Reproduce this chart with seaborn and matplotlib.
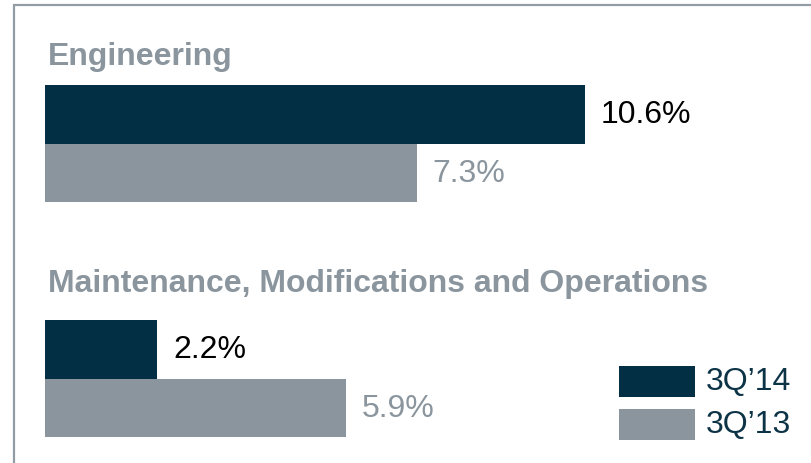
import matplotlib
matplotlib.use("Agg")
import matplotlib.pyplot as plt
import seaborn as sns
import pandas as pd
from matplotlib.patches import Rectangle

sns.set_theme(style="white")
plt.rcParams['font.family'] = ['Liberation Sans', 'DejaVu Sans']

segments = ["Engineering", "Maintenance, Modifications and Operations"]
periods = ["3Q\u201914", "3Q\u201913"]
values_3q14 = [10.6, 2.2]
values_3q13 = [7.3, 5.9]
labels_3q14 = ["10.6%", "2.2%"]
labels_3q13 = ["7.3%", "5.9%"]

DARK = "#022f44"
GRAY = "#8a959e"
TITLE_GRAY = "#8a959e"
LEG_TEXT = "#0d3347"
FS = 23

W, H = 812, 464
fig = plt.figure(figsize=(W / 100, H / 100), dpi=100)

px_per_unit = 50.85
x0 = 45.5
xmax = (W - x0) / px_per_unit

# group axes: (top_px, bottom_px, title_y_px)
groups = [(86, 203, 57), (321, 438, 284)]

for i, (top, bot, ty) in enumerate(groups):
    ax = fig.add_axes([x0 / W, 1 - bot / H, (W - x0) / W, (bot - top) / H])
    df = pd.DataFrame({
        "segment": [segments[i]] * 2,
        "period": periods,
        "value": [values_3q14[i], values_3q13[i]],
    })
    sns.barplot(data=df, x="value", y="segment", hue="period",
                palette=[DARK, GRAY], orient="h", width=0.8, dodge=True,
                legend=False, ax=ax, saturation=1, linewidth=0)
    ax.set_xlim(0, xmax)
    ax.set_ylim(0.4, -0.4)
    ax.axis("off")
    labs = [labels_3q14[i], labels_3q13[i]]
    cols = ["black", GRAY]
    for bar, lab, c in zip(ax.patches, labs, cols):
        ax.text(bar.get_width() + 16 / px_per_unit, bar.get_y() + bar.get_height() / 2,
                lab, va="center", ha="left", fontsize=FS, color=c)
    fig.text(48 / W, 1 - ty / H, segments[i], fontsize=FS, fontweight="bold",
             color=TITLE_GRAY, va="center", ha="left")

# legend
for j, (lab, c, yc) in enumerate([(periods[0], DARK, 382), (periods[1], GRAY, 425)]):
    fig.patches.append(Rectangle((619 / W, 1 - (yc + 15.5) / H), 76 / W, 31 / H,
                                 transform=fig.transFigure, facecolor=c,
                                 edgecolor="none"))
    fig.text(706 / W, 1 - yc / H, lab, fontsize=FS, color=LEG_TEXT,
             va="center", ha="left")

# frame
fig.patches.append(Rectangle((14.5 / W, -0.1), 1.2, 1 - 5.5 / H + 0.1,
                             transform=fig.transFigure, facecolor="none",
                             edgecolor="#929ca5", linewidth=1.6))

fig.savefig("out.png", dpi=100)
